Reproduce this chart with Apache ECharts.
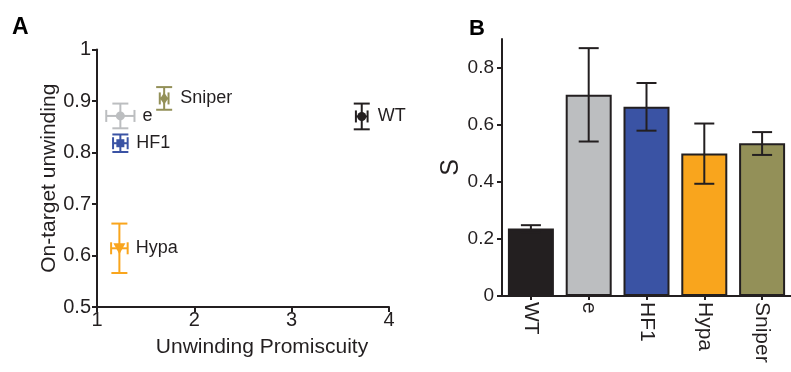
<!DOCTYPE html>
<html><head><meta charset="utf-8">
<script src="https://cdn.jsdelivr.net/npm/echarts@6/dist/echarts.min.js"></script>
<style>html,body{margin:0;padding:0;background:#fff}#c{width:791px;height:372px}</style>
</head><body><div id="c"></div>
<script>
// Panel A data
const variants = ['e', 'HF1', 'Sniper', 'Hypa', 'WT'];
const promiscuity = [1.24, 1.24, 1.69, 1.23, 3.72];
const promiscuityErr = [0.145, 0.075, 0.045, 0.085, 0.06];
const onTarget = [0.871, 0.818, 0.905, 0.614, 0.870];
const onTargetErr = [0.024, 0.017, 0.022, 0.048, 0.025];
const xTicks = [1, 2, 3, 4];
const yTicks = [0.5, 0.6, 0.7, 0.8, 0.9, 1];

// Panel B data
const barCategories = ['WT', 'e', 'HF1', 'Hypa', 'Sniper'];
const sValues = [0.236, 0.705, 0.663, 0.499, 0.535];
const sErrLow = [0.224, 0.541, 0.579, 0.393, 0.494];
const sErrHigh = [0.248, 0.868, 0.746, 0.604, 0.574];
const sTicks = [0, 0.2, 0.4, 0.6, 0.8];

// styles
const pointColors = {e: '#bcbec0', HF1: '#3a53a4', Sniper: '#939058', Hypa: '#f9a51d', WT: '#231f20'};
const pointSymbols = {e: 'circle', HF1: 'rect', Sniper: 'diamond', Hypa: 'triangleDown', WT: 'circle'};
const barColors = {WT: '#231f20', e: '#bcbec0', HF1: '#3a53a4', Hypa: '#f9a51d', Sniper: '#939058'};
const INK = '#231f20';
const FONT = 'Liberation Sans, Arial, sans-serif';

const chart = echarts.init(document.getElementById('c'), null, {renderer: 'canvas'});

const scatterData = variants.map((n, i) => [promiscuity[i], onTarget[i], promiscuityErr[i], onTargetErr[i]]);
const errData = barCategories.map((c, i) => [i, sErrLow[i], sErrHigh[i]]);

function markerShape(sym, cx, cy, color) {
  const st = {fill: color};
  if (sym === 'circle') return {type: 'circle', shape: {cx, cy, r: 4.5}, style: st};
  if (sym === 'rect') return {type: 'rect', shape: {x: cx - 4, y: cy - 4, width: 8, height: 8}, style: st};
  if (sym === 'diamond') return {type: 'polygon', shape: {points: [[cx, cy - 6], [cx + 4, cy], [cx, cy + 6], [cx - 4, cy]]}, style: st};
  return {type: 'polygon', shape: {points: [[cx - 6, cy - 5], [cx + 6, cy - 5], [cx, cy + 6]]}, style: st};
}

function axisCommon() {
  return {
    axisLine: {show: true, lineStyle: {color: INK, width: 2}},
    splitLine: {show: false}
  };
}

const option = {
  animation: false,
  backgroundColor: '#fff',
  textStyle: {fontFamily: FONT},
  graphic: [
    {type: 'text', left: 12, top: 16, style: {text: 'A', font: 'bold 23px ' + FONT, fill: '#000'}},
    {type: 'text', left: 469, top: 18, style: {text: 'B', font: 'bold 22px ' + FONT, fill: '#000'}}
  ],
  grid: [
    {left: 97, top: 49.5, width: 292, height: 257.5},
    {left: 502, top: 39, width: 293.5, height: 257}
  ],
  xAxis: [
    Object.assign(axisCommon(), {
      gridIndex: 0, type: 'value', min: 1, max: 4, interval: 1,
      name: 'Unwinding Promiscuity', nameLocation: 'middle', nameGap: 30,
      axisLabel: {color: INK, fontSize: 20, fontFamily: FONT, margin: 3, customValues: xTicks},
      axisTick: {show: true, length: 5, lineStyle: {color: INK, width: 2}, customValues: xTicks},
      nameTextStyle: {color: INK, fontSize: 21, fontFamily: FONT, padding: [0, 0, 0, 38]}
    }),
    Object.assign(axisCommon(), {
      gridIndex: 1, type: 'category', data: barCategories,
      axisTick: {show: true, alignWithLabel: true, length: 4, lineStyle: {color: INK, width: 2}},
      axisLabel: {color: INK, fontSize: 21, fontFamily: FONT, rotate: -90, margin: 6, interval: 0}
    })
  ],
  yAxis: [
    Object.assign(axisCommon(), {
      gridIndex: 0, type: 'value', min: 0.5, max: 1, interval: 0.1,
      name: 'On-target unwinding', nameLocation: 'middle', nameGap: 36, nameRotate: 90,
      nameTextStyle: {color: INK, fontSize: 21, fontFamily: FONT},
      axisLabel: {color: INK, fontSize: 20, fontFamily: FONT, margin: 6, customValues: yTicks},
      axisTick: {show: true, length: 5, lineStyle: {color: INK, width: 2}, customValues: yTicks}
    }),
    Object.assign(axisCommon(), {
      gridIndex: 1, type: 'value', min: 0, max: 0.9,
      name: 'S', nameLocation: 'middle', nameGap: 34, nameRotate: 90,
      nameTextStyle: {color: INK, fontSize: 25, fontFamily: FONT},
      axisLabel: {color: INK, fontSize: 19, fontFamily: FONT, margin: 8, customValues: sTicks},
      axisTick: {show: true, length: 5, lineStyle: {color: INK, width: 2}, customValues: sTicks}
    })
  ],
  series: [
    {
      type: 'custom', xAxisIndex: 0, yAxisIndex: 0, clip: false,
      data: scatterData,
      renderItem: function (params, api) {
        const x = api.value(0), y = api.value(1), ex = api.value(2), ey = api.value(3);
        const name = variants[params.dataIndex];
        const color = pointColors[name];
        const c = api.coord([x, y]);
        const l = api.coord([x - ex, y]);
        const r = api.coord([x + ex, y]);
        const t = api.coord([x, y + ey]);
        const b = api.coord([x, y - ey]);
        const ls = {stroke: color, lineWidth: 2};
        const line = (x1, y1, x2, y2) => ({type: 'line', shape: {x1, y1, x2, y2}, style: ls});
        return {
          type: 'group',
          children: [
            line(l[0], c[1], r[0], c[1]),
            line(l[0], c[1] - 6, l[0], c[1] + 6),
            line(r[0], c[1] - 6, r[0], c[1] + 6),
            line(c[0], t[1], c[0], b[1]),
            line(c[0] - 8, t[1], c[0] + 8, t[1]),
            line(c[0] - 8, b[1], c[0] + 8, b[1]),
            markerShape(pointSymbols[name], c[0], c[1], color),
            {type: 'text', x: Math.max(r[0], c[0] + 8) + 8, y: c[1],
              style: {text: name, fill: INK, font: '18px ' + FONT, verticalAlign: 'middle', align: 'left'}}
          ]
        };
      }
    },
    {
      type: 'bar', xAxisIndex: 1, yAxisIndex: 1, barWidth: 46,
      data: sValues.map((v, i) => ({value: v, itemStyle: {color: barColors[barCategories[i]]}})),
      itemStyle: {borderColor: INK, borderWidth: 2}
    },
    {
      type: 'custom', xAxisIndex: 1, yAxisIndex: 1, z: 5,
      data: errData,
      renderItem: function (params, api) {
        const lo = api.coord([api.value(0), api.value(1)]);
        const hi = api.coord([api.value(0), api.value(2)]);
        const ls = {stroke: INK, lineWidth: 2};
        return {
          type: 'group',
          children: [
            {type: 'line', shape: {x1: lo[0], y1: lo[1], x2: hi[0], y2: hi[1]}, style: ls},
            {type: 'line', shape: {x1: lo[0] - 10, y1: lo[1], x2: lo[0] + 10, y2: lo[1]}, style: ls},
            {type: 'line', shape: {x1: hi[0] - 10, y1: hi[1], x2: hi[0] + 10, y2: hi[1]}, style: ls}
          ]
        };
      }
    }
  ]
};
chart.setOption(option);
</script>
</body></html>
